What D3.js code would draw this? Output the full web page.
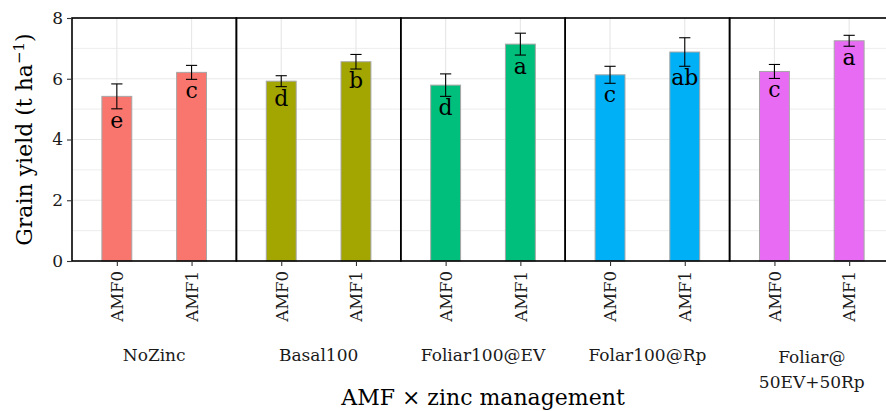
<!DOCTYPE html>
<html>
<head>
<meta charset="utf-8">
<script src="https://cdn.jsdelivr.net/npm/d3@7"></script>
<style>
  body { margin: 0; background: #fff; }
  text { font-family: "DejaVu Serif", serif; }
</style>
</head>
<body>
<script>
(function() {

    var width = 886,
        height = 411;

    // data
    var zincLevels = ["NoZinc", "Basal100", "Foliar100@EV", "Folar100@Rp", "Foliar@\n50EV+50Rp"];
    var amfLevels = ["AMF0", "AMF1"];
    var yieldMean = [
        [5.42, 6.21],
        [5.92, 6.56],
        [5.79, 7.14],
        [6.13, 6.88],
        [6.24, 7.25]
    ];
    var yieldSE = [
        [0.41, 0.23],
        [0.18, 0.24],
        [0.37, 0.36],
        [0.28, 0.47],
        [0.23, 0.18]
    ];
    var letters = [
        ["e", "c"],
        ["d", "b"],
        ["d", "a"],
        ["c", "ab"],
        ["c", "a"]
    ];
    var colors = ["#F8766D", "#A3A500", "#00BF7D", "#00B0F6", "#E76BF3"];
    var yTicks = [0, 2, 4, 6, 8];

    var rows = [];
    zincLevels.forEach(function(z, i) {
        amfLevels.forEach(function(a, j) {
            rows.push({ zinc: z, amf: a, mean: yieldMean[i][j], se: yieldSE[i][j], letter: letters[i][j], color: colors[i] });
        });
    });

    var margin = { left: 72, right: -8, top: 18, bottom: 150 };

    var svg = d3.select("body")
        .append("svg")
        .attr("width", width)
        .attr("height", height);

    var panel = d3.scaleBand()
        .domain(zincLevels)
        .range([margin.left, width - margin.right])
        .padding(0);

    var x = d3.scalePoint()
        .domain(amfLevels)
        .range([0, panel.bandwidth()])
        .padding(0.6);

    var step = x.step();

    var y = d3.scaleLinear()
        .domain([0, 8])
        .range([height - margin.bottom, margin.top]);

    // grid
    var grid = svg.append("g");
    d3.range(0, 8.01, 1).forEach(function(v) {
        grid.append("line")
            .attr("x1", margin.left).attr("x2", width)
            .attr("y1", y(v)).attr("y2", y(v))
            .attr("stroke", "#e8e8e8")
            .attr("stroke-width", v % 2 === 0 ? 1.2 : 0.8);
    });
    rows.forEach(function(d) {
        var cx = panel(d.zinc) + x(d.amf);
        grid.append("line")
            .attr("x1", cx).attr("x2", cx)
            .attr("y1", y(0)).attr("y2", y(8))
            .attr("stroke", "#e8e8e8")
            .attr("stroke-width", 1.2);
    });

    // bars
    svg.selectAll(".bar")
        .data(rows)
        .enter().append("rect")
        .attr("class", "bar")
        .attr("x", function(d) { return panel(d.zinc) + x(d.amf) - step * 0.2; })
        .attr("width", step * 0.4)
        .attr("y", function(d) { return y(d.mean); })
        .attr("height", function(d) { return y(0) - y(d.mean); })
        .attr("fill", function(d) { return d.color; })
        .attr("stroke", "#a6a6a6")
        .attr("stroke-width", 1);

    // error bars
    var eb = svg.selectAll(".err")
        .data(rows)
        .enter().append("g")
        .attr("class", "err")
        .attr("stroke", "#000")
        .attr("stroke-width", 1.1);
    var capW = step * 0.075;
    eb.append("line")
        .attr("x1", function(d) { return panel(d.zinc) + x(d.amf); })
        .attr("x2", function(d) { return panel(d.zinc) + x(d.amf); })
        .attr("y1", function(d) { return y(d.mean + d.se); })
        .attr("y2", function(d) { return y(d.mean - d.se); });
    eb.append("line")
        .attr("x1", function(d) { return panel(d.zinc) + x(d.amf) - capW; })
        .attr("x2", function(d) { return panel(d.zinc) + x(d.amf) + capW; })
        .attr("y1", function(d) { return y(d.mean + d.se); })
        .attr("y2", function(d) { return y(d.mean + d.se); });
    eb.append("line")
        .attr("x1", function(d) { return panel(d.zinc) + x(d.amf) - capW; })
        .attr("x2", function(d) { return panel(d.zinc) + x(d.amf) + capW; })
        .attr("y1", function(d) { return y(d.mean - d.se); })
        .attr("y2", function(d) { return y(d.mean - d.se); });

    // letters
    svg.selectAll(".letter")
        .data(rows)
        .enter().append("text")
        .attr("class", "letter")
        .attr("x", function(d) { return panel(d.zinc) + x(d.amf); })
        .attr("y", function(d) { return y(d.mean - d.se) + 19; })
        .attr("text-anchor", "middle")
        .attr("font-size", 22)
        .attr("fill", "#000")
        .text(function(d) { return d.letter; });

    // panel borders
    var borders = svg.append("g")
        .attr("stroke", "#000")
        .attr("stroke-width", 1.6)
        .attr("fill", "none");
    zincLevels.forEach(function(z) {
        borders.append("rect")
            .attr("x", panel(z))
            .attr("y", y(8))
            .attr("width", panel.bandwidth())
            .attr("height", y(0) - y(8));
    });

    // y axis
    var yAxis = svg.append("g")
        .attr("transform", "translate(" + margin.left + ",0)")
        .call(d3.axisLeft(y).tickValues(yTicks).tickSize(5).tickPadding(4));
    yAxis.select(".domain").remove();
    yAxis.selectAll(".tick line").attr("stroke", "#333").attr("stroke-width", 1.1);
    yAxis.selectAll("text")
        .attr("font-family", "DejaVu Serif")
        .attr("font-size", 17)
        .attr("fill", "#1a1a1a");

    // x axis per panel
    zincLevels.forEach(function(z, i) {
        var g = svg.append("g")
            .attr("transform", "translate(" + panel(z) + "," + y(0) + ")")
            .call(d3.axisBottom(x).tickSize(5).tickPadding(4));
        g.select(".domain").remove();
        g.selectAll(".tick line").attr("stroke", "#333").attr("stroke-width", 1.1);
        g.selectAll("text")
            .attr("font-family", "DejaVu Serif")
            .attr("font-size", 16.5)
            .attr("fill", "#1a1a1a")
            .attr("transform", "rotate(-90)")
            .attr("text-anchor", "end")
            .attr("dy", "0.35em")
            .attr("x", -10)
            .attr("y", 0);

        // strip label below
        var lines = z.split("\n");
        var strip = svg.append("text")
            .attr("x", panel(z) + panel.bandwidth() / 2)
            .attr("y", lines.length > 1 ? 363 : 361)
            .attr("text-anchor", "middle")
            .attr("font-size", 17)
            .attr("fill", "#1a1a1a");
        lines.forEach(function(l, k) {
            strip.append("tspan")
                .attr("x", panel(z) + panel.bandwidth() / 2)
                .attr("dy", k === 0 ? 0 : 25)
                .text(l);
        });
    });

    // axis titles
    svg.append("text")
        .attr("x", (margin.left + width - margin.right) / 2)
        .attr("y", 405)
        .attr("text-anchor", "middle")
        .attr("font-size", 22)
        .attr("fill", "#000")
        .text("AMF \u00d7 zinc management");

    var yt = svg.append("text")
        .attr("transform", "translate(32," + ((y(0) + y(8)) / 2) + ") rotate(-90)")
        .attr("text-anchor", "middle")
        .attr("font-size", 22)
        .attr("fill", "#000");
    yt.append("tspan").text("Grain yield (t ha");
    yt.append("tspan").attr("dy", -8).attr("font-size", 15).text("\u22121");
    yt.append("tspan").attr("dy", 8).text(")");

})();
</script>
</body>
</html>
